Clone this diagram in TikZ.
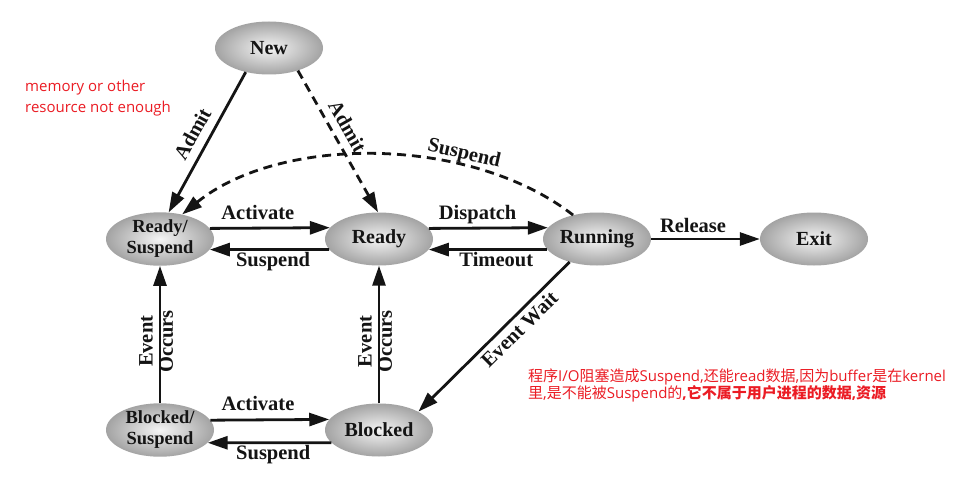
\documentclass[tikz,border=0pt]{standalone}
\usepackage{fontspec}
\setmainfont{Liberation Serif}
\newfontfamily\cjk{Noto Sans CJK SC}
\newfontfamily\latf{Open Sans}
\usetikzlibrary{shapes.geometric,arrows.meta,calc}
\newcommand\zhtxt[1]{{\cjk #1}}
\definecolor{notered}{RGB}{235,28,36}
\definecolor{ink}{RGB}{20,20,20}
\tikzset{
  st/.style={ellipse, minimum width=108pt, minimum height=53pt, inner sep=0pt,
    shade, inner color=gray!8, outer color=gray!72, text=ink,
    font=\bfseries\fontsize{20}{22}\selectfont},
  st2/.style={st, align=center, font=\bfseries\fontsize{18.5}{21}\selectfont},
  arr/.style={draw=ink, line width=2.8pt, -{Triangle[length=20pt,width=13pt]}},
  rarr/.style={draw=ink, line width=2.8pt, {Triangle[length=20pt,width=13pt]}-},
  darr/.style={arr, dash pattern=on 9pt off 6pt},
  rdarr/.style={rarr, dash pattern=on 9pt off 6pt},
  lbl/.style={font=\bfseries\fontsize{20.5}{22}\selectfont, text=ink, inner sep=2pt,
    text height=0.7em, text depth=0.22em},
  redtxt/.style={text=notered, inner sep=0pt, anchor=base west,
    font=\latf\fontsize{15}{18}\selectfont},
}
\begin{document}
\begin{tikzpicture}[x=1pt,y=-1pt]
\fill[white] (0,0) rectangle (959,487);
\useasboundingbox (0,0) rectangle (959,487);

% states
\node[st]  (new)   at (269,48)  {New};
\node[st2] (rs)    at (160,239) {Ready/\\Suspend};
\node[st]  (ready) at (379,239) {Ready};
\node[st]  (run)   at (597,239) {Running};
\node[st]  (exit)  at (814,239) {Exit};
\node[st2] (bs)    at (160,430) {Blocked/\\Suspend};
\node[st]  (blk)   at (379,430) {Blocked};

% admit
\draw[rarr] (rs.72) -- node[lbl, sloped, above=4.3pt, pos=.5] {Admit} (new.226);
\draw[darr] (new.-38) -- node[lbl, sloped, above=3pt, pos=.45] {Admit} (ready.92);

% suspend from running (dashed curve)
\draw[rdarr] (rs.48) .. controls (280,135) and (470,135) .. node[lbl, sloped, above=0pt, pos=.7] {Suspend} (run.135);

% top row
\draw[arr] (rs.12.6) -- node[lbl, above=3.5pt, pos=.4] {Activate} (ready.167.4);
\draw[arr] (ready.192.6) -- node[lbl, below=7pt, pos=.47] {Suspend} (rs.-12.6);
\draw[arr] (ready.12.6) -- node[lbl, above=3.5pt, pos=.41] {Dispatch} (run.167.4);
\draw[arr] (run.192.6) -- node[lbl, below=7pt, pos=.43] {Timeout} (ready.-12.6);
\draw[arr] (run.east) -- node[lbl, above=1pt, pos=.385] {Release} (exit.west);

% event wait
\draw[rarr] (blk.25) -- node[lbl, sloped, below=9pt, pos=.61] {Event Wait} (run.220);

% event occurs
\draw[arr] (bs.north) -- node[lbl, sloped, above=1.7pt, pos=.45] {Event} node[lbl, sloped, below=2.5pt, pos=.45] {Occurs} (rs.south);
\draw[arr] (blk.north) -- node[lbl, sloped, above=1.7pt, pos=.45] {Event} node[lbl, sloped, below=2.5pt, pos=.45] {Occurs} (ready.south);

% bottom row
\draw[arr] (bs.11.3) -- node[lbl, above=3.5pt, pos=.4] {Activate} (blk.168.7);
\draw[arr] (blk.195.4) -- node[lbl, below=6pt, pos=.47] {Suspend} (bs.-15.4);

% notes
\node[redtxt] (n1) at (25,92)  {memory or other};
\node[redtxt] (n2) at (25,112) {resource not enough};
\node[redtxt] (n3) at (528,381) {\zhtxt{程序}I/O\zhtxt{阻塞造成}Suspend,\zhtxt{还能}read\zhtxt{数据},\zhtxt{因为}buffer\zhtxt{是在}kernel};
\node[redtxt] (n4) at (528,398.5) {\zhtxt{里},\zhtxt{是不能被}Suspend\zhtxt{的}{\bfseries ,\zhtxt{它不属于用户进程的数据},\zhtxt{资源}}};
\end{tikzpicture}
\end{document}
